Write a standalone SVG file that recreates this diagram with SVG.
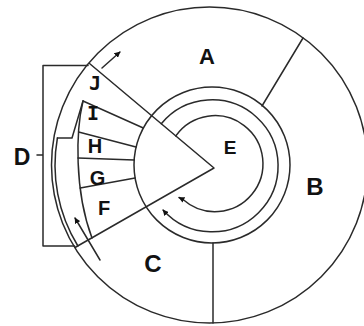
<svg xmlns="http://www.w3.org/2000/svg" width="364" height="326" viewBox="0 0 364 326">
<style>
.ln{fill:none;stroke:#2a2a2a;stroke-width:1.5;stroke-linecap:round;stroke-linejoin:round}
.big{font-family:"Liberation Sans",Arial,sans-serif;font-weight:bold;fill:#111;text-anchor:middle}
.mono{font-family:"DejaVu Sans Mono","Liberation Mono",monospace;font-weight:bold;fill:#111;text-anchor:middle}
</style>
<defs>
<marker id="ah" viewBox="0 0 10 10" refX="9" refY="5" markerWidth="6" markerHeight="6" markerUnits="userSpaceOnUse" orient="auto">
<path d="M0,0 L10,5 L0,10 z" fill="#111"/>
</marker>
</defs>
<rect width="364" height="326" fill="#fff"/>
<g id="connectors">
<circle class="ln" cx="209.5" cy="165" r="158"/>
<circle class="ln" cx="212" cy="165" r="78"/>
<path class="ln" d="M161.3,123.7 A66,66 0 1 1 163,210" marker-end="url(#ah)"/>
<path class="ln" d="M175.8,135.9 A48,48 0 1 1 183,199.5 L179,197.5" marker-end="url(#ah)"/>
<path class="ln" d="M89.5,63.5 L214,168 L75,247.5"/>
<path class="ln" d="M262,106 L303,38"/>
<path class="ln" d="M213,243 L213,323"/>
<path class="ln" d="M88,65.5 L43,65.5 L43,246 L74.5,246 M37,155 L43,155"/>
<path class="ln" d="M57.4,138 A154.5,154.5 0 0 0 77.9,246"/>
<path class="ln" d="M57.4,138 L72,138 L83,101"/>
<path class="ln" d="M83,101 C76,130 74,190 92,238"/>
<path class="ln" d="M83,101 L143.3,128 M78.6,132 L136,147 M78,158 L134.2,160 M80.2,188 L135.1,178"/>
<path class="ln" d="M102,68 L120,52" marker-end="url(#ah)"/>
<path class="ln" d="M100,260 L75,218" marker-end="url(#ah)"/>
</g>
<g id="A"><text class="big" x="207" y="64" font-size="22">A</text></g>
<g id="B"><text class="big" x="315" y="195" font-size="24">B</text></g>
<g id="C"><text class="big" x="153" y="272" font-size="24">C</text></g>
<g id="D"><text class="big" x="22" y="165" font-size="23">D</text></g>
<g id="E"><text class="big" x="230" y="154" font-size="19">E</text></g>
<g id="J"><text class="mono" x="95" y="90" font-size="20">J</text></g>
<g id="I"><text class="mono" x="93" y="120" font-size="20">I</text></g>
<g id="H"><text class="big" x="95" y="153" font-size="20">H</text></g>
<g id="G"><text class="big" x="97.5" y="185" font-size="20">G</text></g>
<g id="F"><text class="big" x="104" y="215" font-size="20">F</text></g>
</svg>
